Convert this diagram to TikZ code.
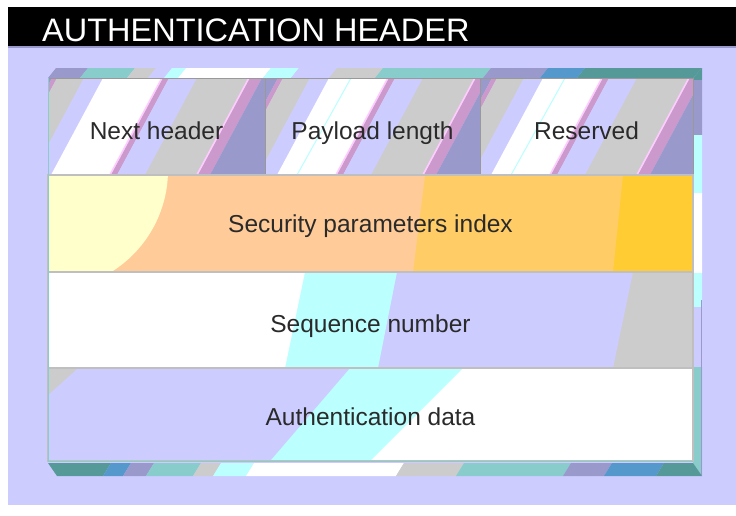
\documentclass[tikz,border=0pt]{standalone}
\usepackage{fontspec}
\setmainfont{Liberation Sans}
\definecolor{lav}{HTML}{CCCCFF}
\definecolor{purp}{HTML}{9999CC}
\definecolor{pinkc}{HTML}{CC99CC}
\definecolor{lpink}{HTML}{FFCCFF}
\definecolor{grayc}{HTML}{CCCCCC}
\definecolor{cyanc}{HTML}{BBFFFF}
\definecolor{teal}{HTML}{88CCCC}
\definecolor{dteal}{HTML}{559999}
\definecolor{bluec}{HTML}{5599CC}
\definecolor{spia}{HTML}{FFFFCC}
\definecolor{spib}{HTML}{FFCC99}
\definecolor{spic}{HTML}{FFCC66}
\definecolor{spid}{HTML}{FFCC33}
\definecolor{txt}{HTML}{2A2A2A}
\definecolor{sepc}{HTML}{BFBFBF}
\definecolor{cellb}{HTML}{999999}
\newcommand\cellstripes[4]{% L, R, offset, cyan line?
  \begin{scope}
    \clip (#1,78) rectangle (#2,175);
    \begin{scope}[shift={(#1+#3,0)}]
      \foreach \a/\b/\c in {-140/-40/purp,-40/-35/pinkc,-35/-8/grayc,-8/11/lav,11/71/white,69/71/lpink,71/77/pinkc,77/105/lav,105/158/grayc,156/158/lpink,158/170/pinkc,170/320/purp}{
        \fill[\c] (\a,175) -- (\b,175) -- (\b+52,78) -- (\a+52,78) -- cycle;
      }
      \ifnum#4=1
        \fill[cyanc] (30.4,175) -- (31.6,175) -- (85.6,78) -- (84.4,78) -- cycle;
      \fi
    \end{scope}
  \end{scope}}
\begin{document}
\begin{tikzpicture}[x=1pt,y=-1pt,
  lbl/.style={text=txt, font=\fontsize{24.5}{28}\selectfont, inner sep=0pt, anchor=base},
  cellbox/.style={inner sep=0pt, outer sep=0pt}]
\useasboundingbox (0,0) rectangle (736,515);
\fill[white] (0,0) rectangle (736,515);
\fill[lav] (8,46) rectangle (736,505);
\fill[black] (8,7) rectangle (736,46);
\fill[purp] (8,46) rectangle (736,48);
\node[anchor=base west, text=white, font=\fontsize{32.5}{36}\selectfont, inner sep=0pt] (title) at (42,41) {AUTHENTICATION HEADER};

% top bevel
\begin{scope}
  \clip (48,78) -- (56,68) -- (702,68) -- (693,78) -- cycle;
  \foreach \a/\b/\c in {40/80/purp,80/127/teal,127/148/grayc,148/164/lav,164/178/cyanc,178/263/white,263/291/cyanc,291/329/lav,329/375/grayc,375/483/teal,483/540/purp,540/577/bluec,577/720/dteal}{
    \fill[\c] (\a,78) -- (\b,78) -- (\b+8,68) -- (\a+8,68) -- cycle;
  }
\end{scope}
% right strip
\begin{scope}
  \clip (693,78) -- (702,68) -- (702,476) -- (693,463) -- cycle;
  \foreach \a/\b/\c in {60/80/dteal,80/135/purp,135/193/cyanc,193/273/white,273/307/cyanc,307/367/lav,367/480/teal}{
    \fill[\c] (690,\a) rectangle (705,\b);
  }
  \fill[purp] (700.8,300) rectangle (702,476);
\end{scope}
% bottom bevel
\begin{scope}
  \clip (48,463) -- (693,463) -- (702,476) -- (57,476) -- cycle;
  \foreach \a/\b/\c in {30/107/dteal,107/127/bluec,127/150/purp,150/197/teal,197/217/grayc,217/250/cyanc,250/400/white,400/460/grayc,460/567/teal,567/608/purp,608/660/bluec,660/720/dteal}{
    \fill[\c] (\a+4,463) -- (\b+4,463) -- (\b-4,476) -- (\a-4,476) -- cycle;
  }
\end{scope}

% row 1 stripes
\cellstripes{48}{265}{-8}{0}
\cellstripes{265}{480}{1}{1}
\cellstripes{480}{693}{0}{1}

% SPI row
\begin{scope}
  \clip (48,175) rectangle (693,272);
  \fill[spid] (48,175) rectangle (693,272);
  \fill[spic] (48,175) -- (623,175) -- (613,272) -- (48,272) -- cycle;
  \fill[spib] (48,175) -- (425,175) -- (413,272) -- (48,272) -- cycle;
  \fill[spia] (48,170) circle[radius=120];
\end{scope}
% Sequence row
\fill[grayc] (48,272) rectangle (693,368);
\fill[lav] (48,272) -- (633,272) -- (613,368) -- (48,368) -- cycle;
\fill[cyanc] (48,272) -- (397,272) -- (378,368) -- (48,368) -- cycle;
\fill[white] (48,272) -- (305,272) -- (285,368) -- (48,368) -- cycle;
% Auth row
\fill[white] (48,368) rectangle (693,461);
\fill[cyanc] (48,368) -- (463,368) -- (370,461) -- (48,461) -- cycle;
\fill[lav] (48,368) -- (350,368) -- (270,461) -- (48,461) -- cycle;
\fill[grayc] (48,368) -- (78,368) -- (48,395) -- cycle;

% cell frames
\node[cellbox, draw=cellb, line width=1pt, minimum width=217pt, minimum height=97pt] (nh) at (156.5,126.5) {};
\node[cellbox, draw=cellb, line width=1pt, minimum width=215pt, minimum height=97pt] (pl) at (372.5,126.5) {};
\node[cellbox, draw=cellb, line width=1pt, minimum width=213pt, minimum height=97pt] (rs) at (586.5,126.5) {};
\node[cellbox, draw=sepc, line width=1.5pt, minimum width=645pt, minimum height=97pt] (spi) at (370.5,223.5) {};
\node[cellbox, draw=sepc, line width=1.5pt, minimum width=645pt, minimum height=96pt] (seq) at (370.5,320) {};
\node[cellbox, draw=sepc, line width=1.5pt, minimum width=645pt, minimum height=93pt] (auth) at (370.5,414.5) {};
\draw[teal, line width=0.8pt] (nh.north west) -- (auth.south west) -- (auth.south east);

% labels
\node[lbl] (tnh) at (nh.center |- 0,139) {Next header};
\node[lbl] (tpl) at (pl.center |- 0,139) {Payload length};
\node[lbl] (trs) at (rs.center |- 0,139) {Reserved};
\node[lbl] (tspi) at (spi.center |- 0,232) {Security parameters index};
\node[lbl] (tseq) at (seq.center |- 0,332) {Sequence number};
\node[lbl] (tauth) at (auth.center |- 0,425) {Authentication data};
\end{tikzpicture}
\end{document}
